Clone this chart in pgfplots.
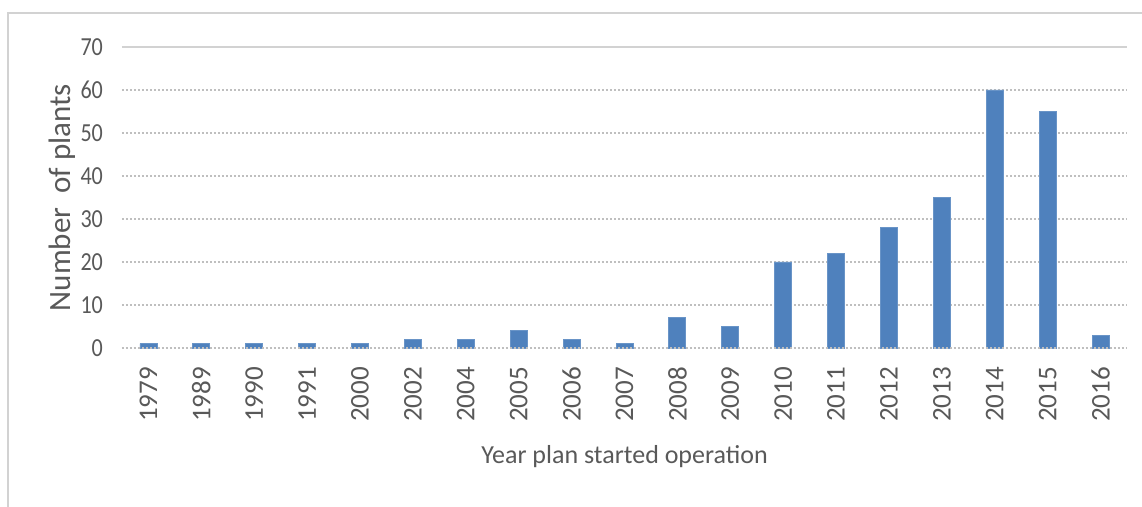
\documentclass[border=0pt]{standalone}
\usepackage{fontspec}
\setmainfont{Carlito}
\newfontfamily\narrowfont{Carlito}[FakeStretch=0.85]
\usepackage{pgfplots}
\pgfplotsset{compat=1.18}
\definecolor{barblue}{HTML}{4F81BD}
\definecolor{txtgray}{HTML}{595959}
\definecolor{gridgray}{HTML}{BFBFBF}

\begin{document}
\begin{tikzpicture}
\begin{axis}[
  scale only axis,
  width=502.5pt, height=150.5pt,
  ybar, bar width=8.5pt,
  xmin=-0.5, xmax=18.5,
  ymin=0, ymax=70,
  ytick={0,10,...,60},
  extra y ticks={70},
  extra y tick style={grid style={solid, gridgray!70, line width=0.6pt}},
  xtick=data,
  xticklabels={1979,1989,1990,1991,2000,2002,2004,2005,2006,2007,2008,2009,2010,2011,2012,2013,2014,2015,2016},
  axis line style={draw=none},
  major tick length=0pt,
  ymajorgrids,
  grid style={dash pattern=on 1.2pt off 0.8pt, gridgray, line width=0.6pt},
  /pgf/number format/assume math mode=true,
  yticklabel style={font=\narrowfont\fontsize{13}{13}\selectfont, text=txtgray, anchor=east, xshift=-6pt},
  xticklabel style={font=\fontsize{13.5}{13.5}\selectfont, text=txtgray, rotate=90, anchor=east},
  xticklabel shift=6pt,
  xlabel={Year plan started operation},
  ylabel={Number\ \ of plants},
  every axis x label/.style={at={(axis description cs:0.5,0)}, yshift=-54.5pt, anchor=center, font=\fontsize{13}{13}\selectfont, text=txtgray},
  every axis y label/.style={at={(axis description cs:0,0.5)}, xshift=-30pt, rotate=90, anchor=center, font=\fontsize{15.5}{15.5}\selectfont, text=txtgray},
  clip=false,
]
\addplot[fill=barblue, draw=barblue!85!white, line width=0.4pt] coordinates {
  (0,1) (1,1) (2,1) (3,1) (4,1) (5,2) (6,2) (7,4) (8,2) (9,1)
  (10,7) (11,5) (12,20) (13,22) (14,28) (15,35) (16,60) (17,55) (18,3)
};
% zero line
\draw[dash pattern=on 1.2pt off 0.8pt, gridgray, line width=0.6pt] (rel axis cs:0,0) -- (rel axis cs:1,0);
\end{axis}
\draw[gray!35, line width=0.8pt] (-57pt,-95pt) rectangle (530pt,167.5pt);
\pgfresetboundingbox
\path[use as bounding box] (-61pt,-79.5pt) rectangle (510pt,174pt);
\end{tikzpicture}
\end{document}
